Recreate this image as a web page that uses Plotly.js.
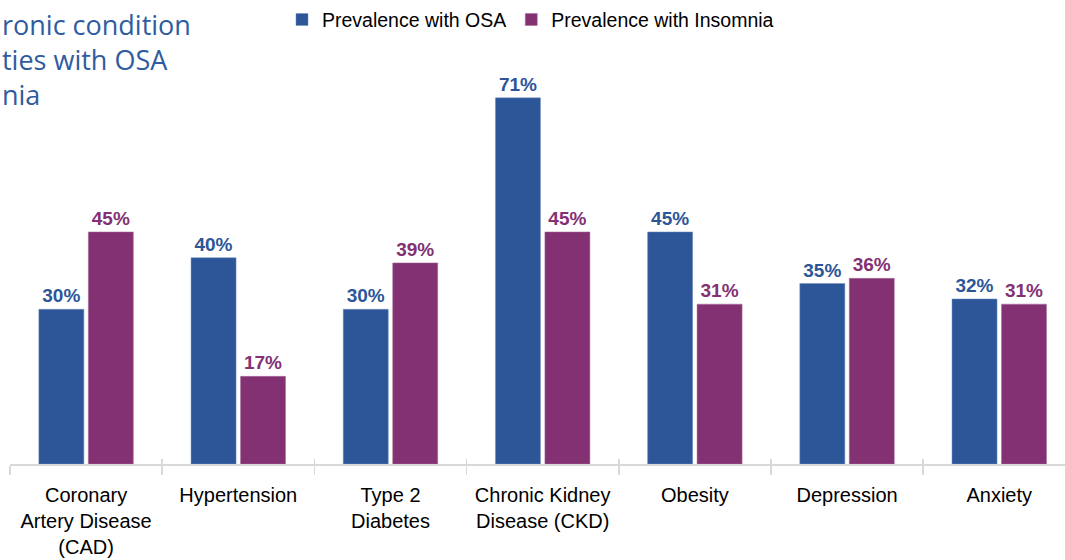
<!DOCTYPE html>
<html>
<head>
<meta charset="utf-8">
<script src="https://cdn.plot.ly/plotly-3.0.1.min.js"></script>
<style>
html,body{margin:0;padding:0;background:#fff;}
#chart{width:1065px;height:560px;}
</style>
</head>
<body>
<div id="chart"></div>
<script>
const categories = ["Coronary<br>Artery Disease<br>(CAD)", "Hypertension", "Type 2<br>Diabetes", "Chronic Kidney<br>Disease (CKD)", "Obesity", "Depression", "Anxiety"];
const osaValues = [30, 40, 30, 71, 45, 35, 32];
const insomniaValues = [45, 17, 39, 45, 31, 36, 31];
const seriesNames = ["Prevalence with OSA", "Prevalence with Insomnia"];
const titleLines = ["ronic condition", "ties with OSA", "nia"];

const blue = "#2C5697";
const purple = "#833172";
const pct = v => v.map(x => x + "%");

const traces = [
  {
    type: "bar", name: seriesNames[0], x: categories, y: osaValues,
    marker: {color: blue, line: {color: "#6f8fc0", width: 0.5}},
    text: pct(osaValues), textposition: "outside", cliponaxis: false,
    textfont: {family: "Liberation Sans, Arial, sans-serif", size: 19, color: blue, weight: "bold"},
    hoverinfo: "skip"
  },
  {
    type: "bar", name: seriesNames[1], x: categories, y: insomniaValues,
    marker: {color: purple, line: {color: "#a5709b", width: 0.5}},
    text: pct(insomniaValues), textposition: "outside", cliponaxis: false,
    textfont: {family: "Liberation Sans, Arial, sans-serif", size: 19, color: purple, weight: "bold"},
    hoverinfo: "skip"
  },
  {
    type: "bar", x: categories, y: categories.map(() => null), xaxis: "x2", yaxis: "y",
    showlegend: false, hoverinfo: "skip"
  }
];

const annotations = [{
  text: titleLines.join("<br>"), xref: "paper", yref: "paper",
  x: -10 / 1055, xanchor: "left",
  y: 1, yanchor: "top",
  showarrow: false, align: "left",
  font: {family: "Open Sans, sans-serif", size: 27, color: "#2F5C9F"}
}];

const layout = {
  width: 1065, height: 560,
  margin: {l: 10, r: 0, t: 0, b: 96},
  paper_bgcolor: "#fff", plot_bgcolor: "#fff",
  barmode: "group", bargap: 0.35, bargroupgap: 0.09,
  showlegend: true,
  legend: {
    orientation: "h", x: 272 / 1055, xanchor: "left", y: 1.008, yanchor: "top",
    font: {family: "Liberation Sans, Arial, sans-serif", size: 19.5, color: "#000"},
    bgcolor: "rgba(0,0,0,0)"
  },
  xaxis: {
    type: "category", range: [-0.5, 6.432],
    showline: true, linecolor: "#d9d9d9", linewidth: 1.5,
    ticks: "outside", tickson: "boundaries", ticklen: 9, tickcolor: "#d9d9d9", tickwidth: 1.5,
    ticklabelstandoff: 12,
    tickfont: {family: "Liberation Sans, Arial, sans-serif", size: 20, color: "#000"},
    showgrid: false, zeroline: false, fixedrange: true
  },
  xaxis2: {
    type: "category", range: [-0.5, 6.432], overlaying: "x", anchor: "y",
    ticks: "inside", tickson: "boundaries", ticklen: 5, tickcolor: "#d9d9d9", tickwidth: 1.5,
    showticklabels: false, showgrid: false, showline: false, zeroline: false,
    matches: "x"
  },
  yaxis: {
    range: [0, 89.2], visible: false, showgrid: false, zeroline: false, fixedrange: true
  },
  annotations: annotations
};

Plotly.newPlot("chart", traces, layout, {displayModeBar: false, staticPlot: true});
</script>
</body>
</html>
